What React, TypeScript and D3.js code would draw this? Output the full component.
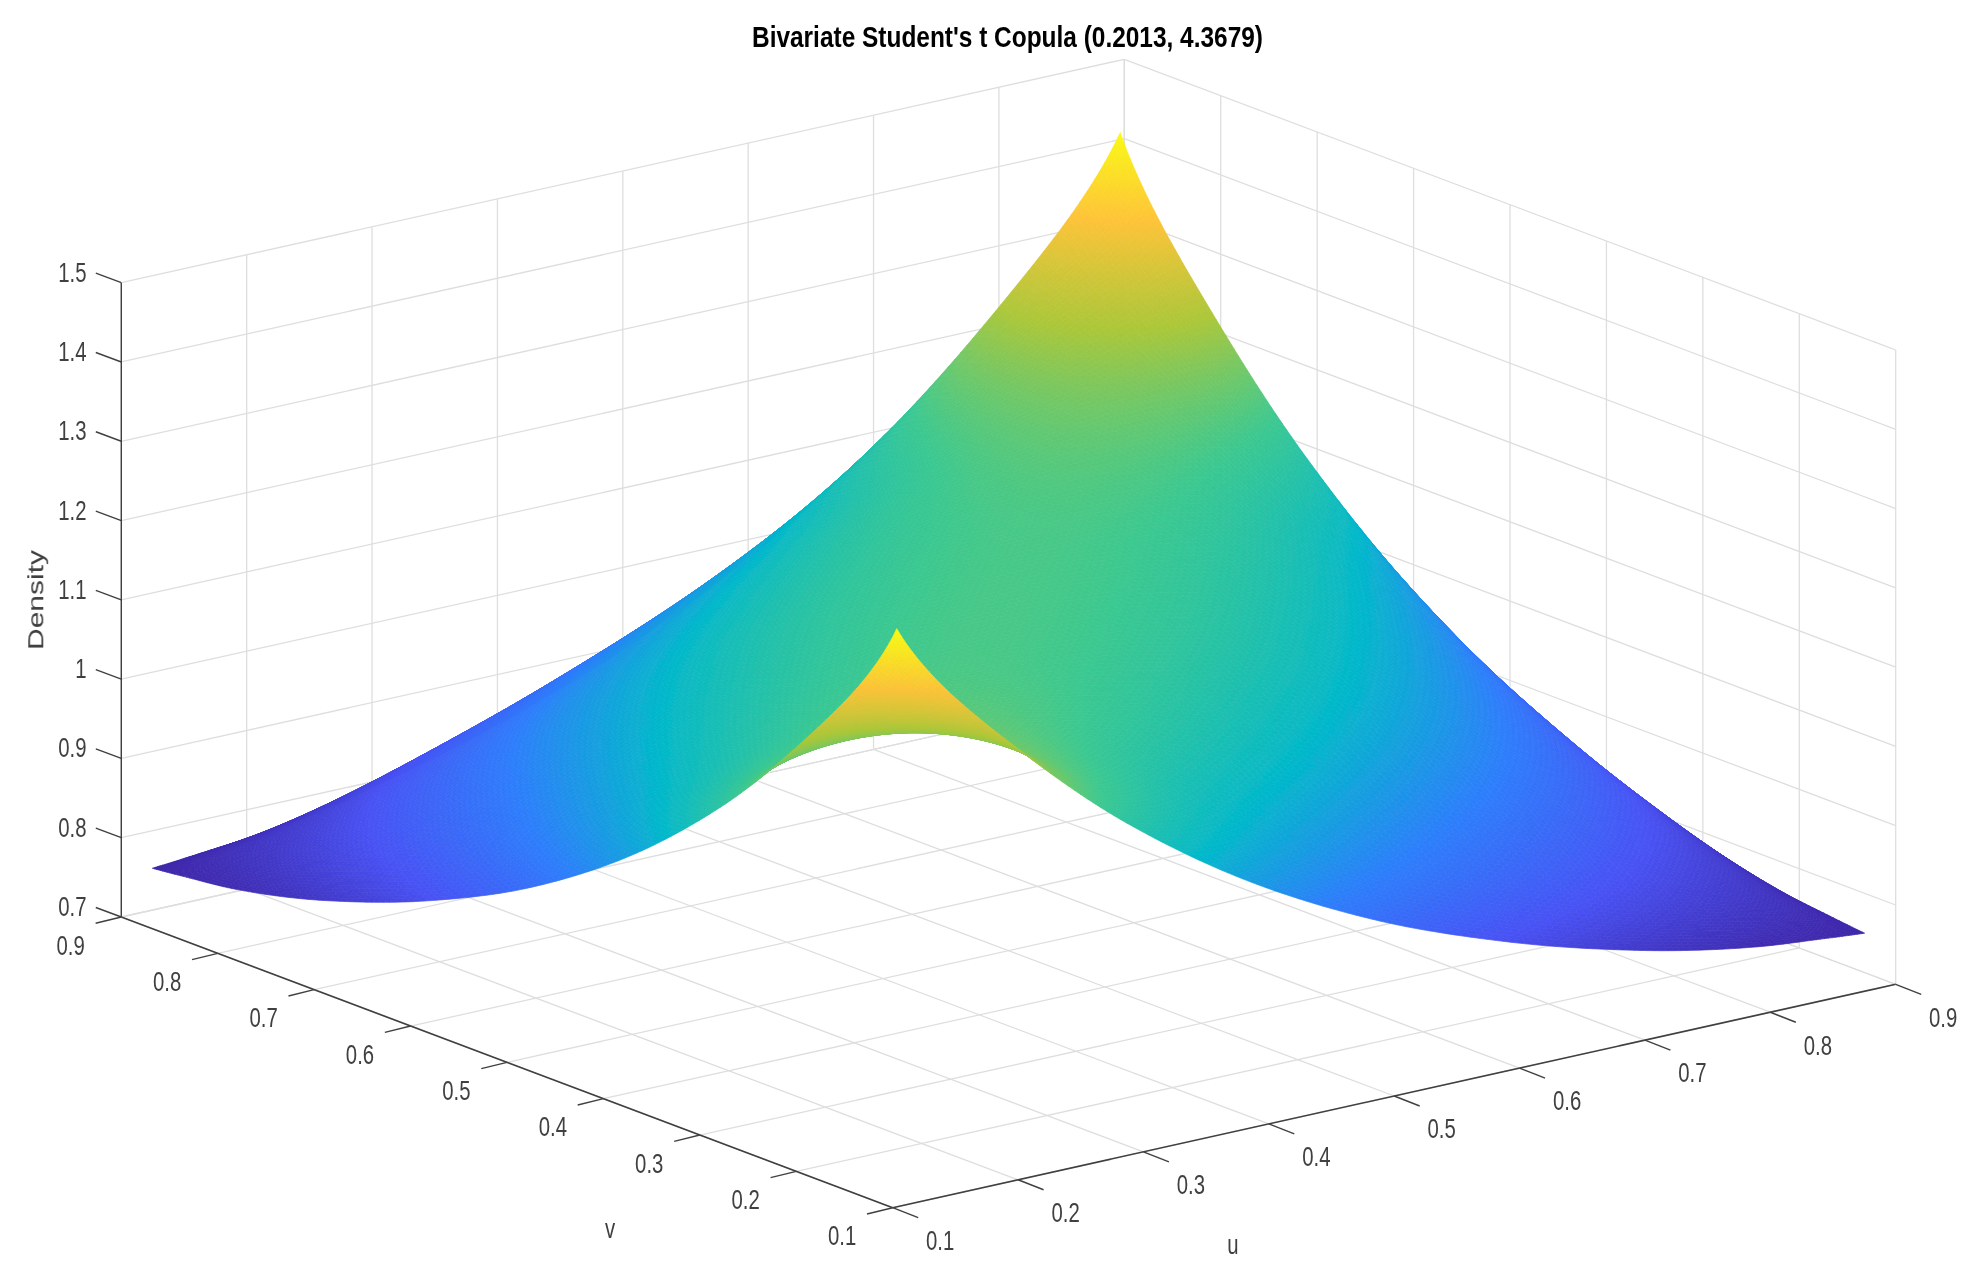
import React from "react";
import * as d3 from "d3";

const W = 1971;
const H = 1282;

const titleText = "Bivariate Student's t Copula (0.2013, 4.3679)";
const uvTicks = [0.1, 0.2, 0.3, 0.4, 0.5, 0.6, 0.7, 0.8, 0.9];
const zTicks = [0.7, 0.8, 0.9, 1.0, 1.1, 1.2, 1.3, 1.4, 1.5];

// Grid positions of the density table
const uKnots = [0.114, 0.15, 0.2, 0.3, 0.4, 0.5, 0.6, 0.7, 0.8, 0.85, 0.886];
const vKnots = uKnots;
// Stretched coordinate in which the surface varies evenly (t-scale of the margins)
const stretch = [-1.4, -1.15, -0.93, -0.57, -0.27, 0, 0.27, 0.57, 0.93, 1.15, 1.4];
// Density, row = u, column = v
const density = [
  [1.419, 1.335, 1.25, 1.106, 0.9965, 0.914, 0.853, 0.807, 0.776, 0.768, 0.763],
  [1.335, 1.293, 1.244, 1.141, 1.05, 0.973, 0.909, 0.855, 0.807, 0.787, 0.768],
  [1.25, 1.244, 1.22, 1.16, 1.09, 1.026, 0.962, 0.901, 0.839, 0.807, 0.776],
  [1.106, 1.141, 1.16, 1.163, 1.138, 1.096, 1.043, 0.98, 0.901, 0.855, 0.807],
  [0.9965, 1.05, 1.09, 1.138, 1.148, 1.135, 1.1, 1.043, 0.962, 0.909, 0.853],
  [0.914, 0.973, 1.026, 1.096, 1.135, 1.147, 1.135, 1.096, 1.026, 0.973, 0.914],
  [0.853, 0.909, 0.962, 1.043, 1.1, 1.135, 1.148, 1.138, 1.09, 1.05, 0.9965],
  [0.807, 0.855, 0.901, 0.98, 1.043, 1.096, 1.138, 1.163, 1.16, 1.141, 1.106],
  [0.776, 0.807, 0.839, 0.901, 0.962, 1.026, 1.09, 1.16, 1.22, 1.244, 1.25],
  [0.768, 0.787, 0.807, 0.855, 0.909, 0.973, 1.05, 1.141, 1.244, 1.293, 1.335],
  [0.763, 0.768, 0.776, 0.807, 0.853, 0.914, 0.9965, 1.106, 1.25, 1.335, 1.419],
];

const parulaStops = ["#3e26a8", "#4852f4", "#2d7efb", "#03b8ca", "#3cc890", "#abc739", "#fec338", "#f9fb14"];

// Oblique axes of the 3D box
const uX = d3.scaleLinear().domain([0.1, 0.9]).range([0, 1003]);
const uY = d3.scaleLinear().domain([0.1, 0.9]).range([0, -223.4]);
const vX = d3.scaleLinear().domain([0.1, 0.9]).range([0, -771.4]);
const vY = d3.scaleLinear().domain([0.1, 0.9]).range([0, -290.7]);
const zY = d3.scaleLinear().domain([0.7, 1.5]).range([0, -634.3]);
const ORIGIN = [892.7, 1207.7];

const project = (u: number, v: number, z: number): [number, number] => [
  ORIGIN[0] + uX(u) + vX(v),
  ORIGIN[1] + uY(u) + vY(v) + zY(z),
];

const zLo = d3.min(density.flat()) as number;
const zHi = d3.max(density.flat()) as number;
const color = d3
  .scaleLinear<string>()
  .domain(parulaStops.map((_, i) => (i / (parulaStops.length - 1)) * (zHi - zLo) + zLo))
  .range(parulaStops)
  .interpolate(d3.interpolateRgb)
  .clamp(true);

function spline(xs: number[], ys: number[]) {
  const n = xs.length;
  const m = new Array(n).fill(0);
  const parabolic = (i0: number, i1: number, i2: number, at: number) => {
    const [a, b, c] = [xs[i0], xs[i1], xs[i2]];
    const d01 = (ys[i1] - ys[i0]) / (b - a);
    const d12 = (ys[i2] - ys[i1]) / (c - b);
    const dd = (d12 - d01) / (c - a);
    return d01 + dd * (at - a + (at - b));
  };
  for (let i = 0; i < n; i++) {
    if (i === 0) m[i] = parabolic(0, 1, 2, xs[0]);
    else if (i === n - 1) m[i] = parabolic(n - 3, n - 2, n - 1, xs[n - 1]);
    else m[i] = parabolic(i - 1, i, i + 1, xs[i]);
  }
  return (x: number) => {
    let i = d3.bisectRight(xs, x) - 1;
    i = Math.max(0, Math.min(n - 2, i));
    const h = xs[i + 1] - xs[i];
    const t = (x - xs[i]) / h;
    const t2 = t * t;
    const t3 = t2 * t;
    return (
      (2 * t3 - 3 * t2 + 1) * ys[i] +
      (t3 - 2 * t2 + t) * h * m[i] +
      (-2 * t3 + 3 * t2) * ys[i + 1] +
      (t3 - t2) * h * m[i + 1]
    );
  };
}

const N = 160;
const meshS = d3.range(N + 1).map((i) => stretch[0] + (i / N) * (stretch[stretch.length - 1] - stretch[0]));
const toU = spline(stretch, uKnots);
const toV = spline(stretch, vKnots);
const meshU = meshS.map(toU);
const meshV = meshS.map(toV);

const rowSplines = density.map((row) => spline(stretch, row));
const meshZ = meshS.map((sv) => {
  const across = spline(stretch, rowSplines.map((f) => f(sv)));
  return meshS.map((su) => across(su));
}); // meshZ[iv][iu]

function surfaceQuads() {
  const quads: { d: string; c: string }[] = [];
  for (let iu = N - 1; iu >= 0; iu--) {
    for (let iv = N - 1; iv >= 0; iv--) {
      const us = [iu, iu + 1, iu + 1, iu];
      const vs = [iv, iv, iv + 1, iv + 1];
      const zs = us.map((a, k) => meshZ[vs[k]][a]);
      const pts = us.map((a, k) => project(meshU[a], meshV[vs[k]], zs[k]));
      quads.push({
        d: "M" + pts.map((p) => p[0].toFixed(2) + "," + p[1].toFixed(2)).join("L") + "Z",
        c: color(d3.mean(zs) as number),
      });
    }
  }
  return quads;
}

const GRID = "#dedede";
const AXIS = "#404040";
const FONT = "'Liberation Sans', Arial, sans-serif";
const SX = 0.74;

function Label({ x, y, text }: { x: number; y: number; text: string }) {
  return (
    <text
      transform={`translate(${x},${y}) scale(${SX},1)`}
      textAnchor="middle"
      fontFamily={FONT}
      fontSize={27.5}
      fill={AXIS}
    >
      {text}
    </text>
  );
}

function Seg({ a, b, stroke, w }: { a: [number, number]; b: [number, number]; stroke: string; w: number }) {
  return <line x1={a[0]} y1={a[1]} x2={b[0]} y2={b[1]} stroke={stroke} strokeWidth={w} />;
}

const fmt = (t: number) => (t === 1 ? "1" : String(t));

export default function App() {
  const quads = React.useMemo(surfaceQuads, []);
  const uMin = uvTicks[0];
  const uMax = uvTicks[uvTicks.length - 1];
  const zMin = zTicks[0];
  const zMax = zTicks[zTicks.length - 1];
  return (
    <svg
      width={W}
      height={H}
      viewBox={`0 0 ${W} ${H}`}
      style={{ position: "absolute", left: 0, top: 0, display: "block", background: "#fff" }}
    >
      <defs>
        <filter id="soft" x="0" y="0" width={W} height={H} filterUnits="userSpaceOnUse">
          <feGaussianBlur stdDeviation="0.55" />
        </filter>
      </defs>
      <g filter="url(#soft)">
        <g>
          {uvTicks.map((t) => (
            <g key={"g" + t}>
              <Seg a={project(t, uMin, zMin)} b={project(t, uMax, zMin)} stroke={GRID} w={1.3} />
              <Seg a={project(uMin, t, zMin)} b={project(uMax, t, zMin)} stroke={GRID} w={1.3} />
              <Seg a={project(t, uMax, zMin)} b={project(t, uMax, zMax)} stroke={GRID} w={1.3} />
              <Seg a={project(uMax, t, zMin)} b={project(uMax, t, zMax)} stroke={GRID} w={1.3} />
            </g>
          ))}
          {zTicks.map((t) => (
            <g key={"z" + t}>
              <Seg a={project(uMin, uMax, t)} b={project(uMax, uMax, t)} stroke={GRID} w={1.3} />
              <Seg a={project(uMax, uMin, t)} b={project(uMax, uMax, t)} stroke={GRID} w={1.3} />
            </g>
          ))}
        </g>

        <g>
          {quads.map((q, i) => (
            <path key={i} d={q.d} fill={q.c} stroke={q.c} strokeWidth={0.7} strokeLinejoin="round" />
          ))}
        </g>

        <g>
          <Seg a={project(uMin, uMin, zMin)} b={project(uMax, uMin, zMin)} stroke={AXIS} w={1.6} />
          <Seg a={project(uMin, uMin, zMin)} b={project(uMin, uMax, zMin)} stroke={AXIS} w={1.6} />
          <Seg a={project(uMin, uMax, zMin)} b={project(uMin, uMax, zMax)} stroke={AXIS} w={1.4} />
          {uvTicks.map((t) => {
            const pu = project(t, uMin, zMin);
            const pv = project(uMin, t, zMin);
            return (
              <g key={"t" + t}>
                <Seg a={pu} b={[pu[0] + 25.5, pu[1] + 10]} stroke={AXIS} w={1.4} />
                <Seg a={pv} b={[pv[0] - 25.7, pv[1] + 6.3]} stroke={AXIS} w={1.4} />
                <Label x={pu[0] + 47.5} y={pu[1] + 42.3} text={fmt(t)} />
                <Label x={pv[0] - 50.6} y={pv[1] + 37.5} text={fmt(t)} />
              </g>
            );
          })}
          {zTicks.map((t) => {
            const p = project(uMin, uMax, t);
            return (
              <g key={"zt" + t}>
                <Seg a={p} b={[p[0] - 25.5, p[1] - 9.5]} stroke={AXIS} w={1.4} />
                <text
                  transform={`translate(86.5,${p[1] - 1}) scale(${SX},1)`}
                  textAnchor="end"
                  fontFamily={FONT}
                  fontSize={27.5}
                  fill={AXIS}
                >
                  {fmt(Number(t.toFixed(1)))}
                </text>
              </g>
            );
          })}
        </g>

        <Label x={610} y={1238} text="v" />
        <Label x={1233} y={1254} text="u" />
        <text
          transform={`translate(43,600) scale(${SX},1) rotate(-90)`}
          textAnchor="middle"
          fontFamily={FONT}
          fontSize={30}
          fill={AXIS}
        >
          Density
        </text>
        <text
          x={1007.5}
          y={46.5}
          textAnchor="middle"
          fontFamily={FONT}
          fontWeight="bold"
          fontSize={29}
          fill="#000"
          textLength={511}
          lengthAdjust="spacingAndGlyphs"
        >
          {titleText}
        </text>
      </g>
    </svg>
  );
}
